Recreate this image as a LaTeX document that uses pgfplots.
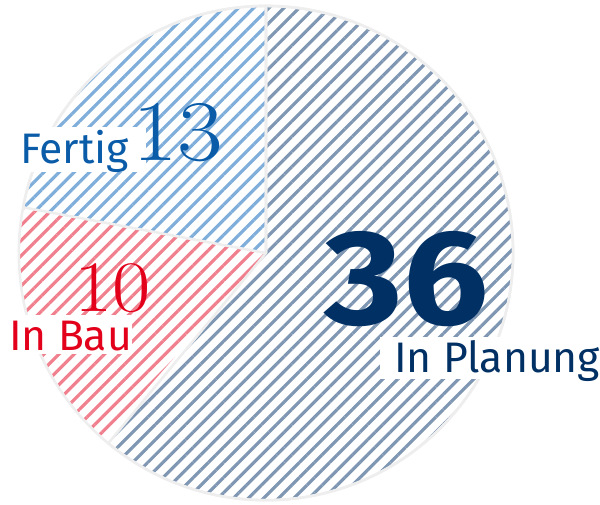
\documentclass[border=0pt]{standalone}
\usepackage{fontspec}
\setmainfont{Fira Sans}
\newfontfamily\lmfont[FakeStretch=1.15]{Latin Modern Roman}
\newfontfamily\bigbold[FakeStretch=1.12]{Fira Sans Bold}
\usepackage{pgfplots}
\usepackage{pgfplotstable}
\pgfplotsset{compat=1.18}
\usetikzlibrary{patterns.meta}
\definecolor{plantext}{HTML}{003064}
\definecolor{planhatch}{HTML}{7F97B3}
\definecolor{fertigtext}{HTML}{0A5CA8}
\definecolor{fertighatch}{HTML}{80AEDA}
\definecolor{bautext}{HTML}{E2001A}
\definecolor{bauhatch}{HTML}{F0808E}
\definecolor{border}{HTML}{EEEEEE}
\pgfplotstableread{
label value
Planung 36
Bau 10
Fertig 13
}\pietable
\begin{document}
\begin{tikzpicture}
\pgfplotstablegetelem{0}{value}\of\pietable \let\vPlan\pgfplotsretval
\pgfplotstablegetelem{1}{value}\of\pietable \let\vBau\pgfplotsretval
\pgfplotstablegetelem{2}{value}\of\pietable \let\vFertig\pgfplotsretval
\pgfmathsetmacro\total{\vPlan+\vBau+\vFertig}
\pgfmathsetmacro\aA{90}
\pgfmathsetmacro\aB{90-360*\vPlan/\total}
\pgfmathsetmacro\aC{\aB-360*\vBau/\total}
\pgfmathsetmacro\aD{\aC-360*\vFertig/\total}
\pgfmathsetmacro\aBgap{\aB-1.6}
\def\R{249bp}
\tikzset{hatch/.style={pattern={Lines[angle=45,distance=10.8bp,line width=3.2bp]},pattern color=#1}}
\begin{axis}[x=1bp,y=1bp,xmin=0,xmax=600,ymin=0,ymax=508,hide axis,clip=false]
\path (axis cs:0,0) rectangle (axis cs:600,508);
% slices
\fill[hatch=planhatch]
  (axis cs:268,253) -- ++(\aA:\R) arc[start angle=\aA,end angle=\aB,radius=\R] -- cycle;
\fill[hatch=bauhatch]
  (axis cs:268,253) -- ++(\aBgap:\R) arc[start angle=\aBgap,end angle=\aC,radius=\R] -- cycle;
\fill[hatch=fertighatch]
  (axis cs:268,253) -- ++(\aC:\R) arc[start angle=\aC,end angle=\aD,radius=\R] -- cycle;
% borders
\draw[border,line width=2.6bp,line join=round]
  (axis cs:268,253) -- ++(\aA:\R) arc[start angle=\aA,end angle=\aB,radius=\R] -- cycle;
\draw[border,line width=2.6bp,line join=round]
  (axis cs:268,253) -- ++(\aC:\R) arc[start angle=\aC,end angle=\aD,radius=\R] -- cycle;
\draw[border,line width=2.6bp] (axis cs:268,253) circle[radius=\R];
% label boxes
\fill[white] (axis cs:22,335) rectangle (axis cs:147,380);
\fill[white] (axis cs:10,151) rectangle (axis cs:133,191);
\fill[white] (axis cs:383,126) rectangle (axis cs:600,168);
% texts
\node[anchor=base west,inner sep=0pt,text=fertigtext,font=\fontsize{43bp}{50bp}\selectfont] at (axis cs:20,343) {Fertig};
\node[anchor=base west,inner sep=0pt,text=fertigtext,font=\lmfont\fontsize{87bp}{95bp}\selectfont] at (axis cs:133,346) {\vFertig};
\node[anchor=base west,inner sep=0pt,text=bautext,font=\lmfont\fontsize{73bp}{80bp}\selectfont] at (axis cs:75,194) {\vBau};
\node[anchor=base west,inner sep=0pt,text=bautext,font=\fontsize{43bp}{50bp}\selectfont] at (axis cs:9,155) {In Bau};
\node[anchor=base west,inner sep=0pt,text=plantext,font=\bigbold\fontsize{136bp}{140bp}\selectfont] at (axis cs:327,181) {\vPlan};
\node[anchor=base west,inner sep=0pt,text=plantext,font=\fontsize{43bp}{50bp}\selectfont] at (axis cs:397,133) {In Planung};
\end{axis}
\end{tikzpicture}
\end{document}
